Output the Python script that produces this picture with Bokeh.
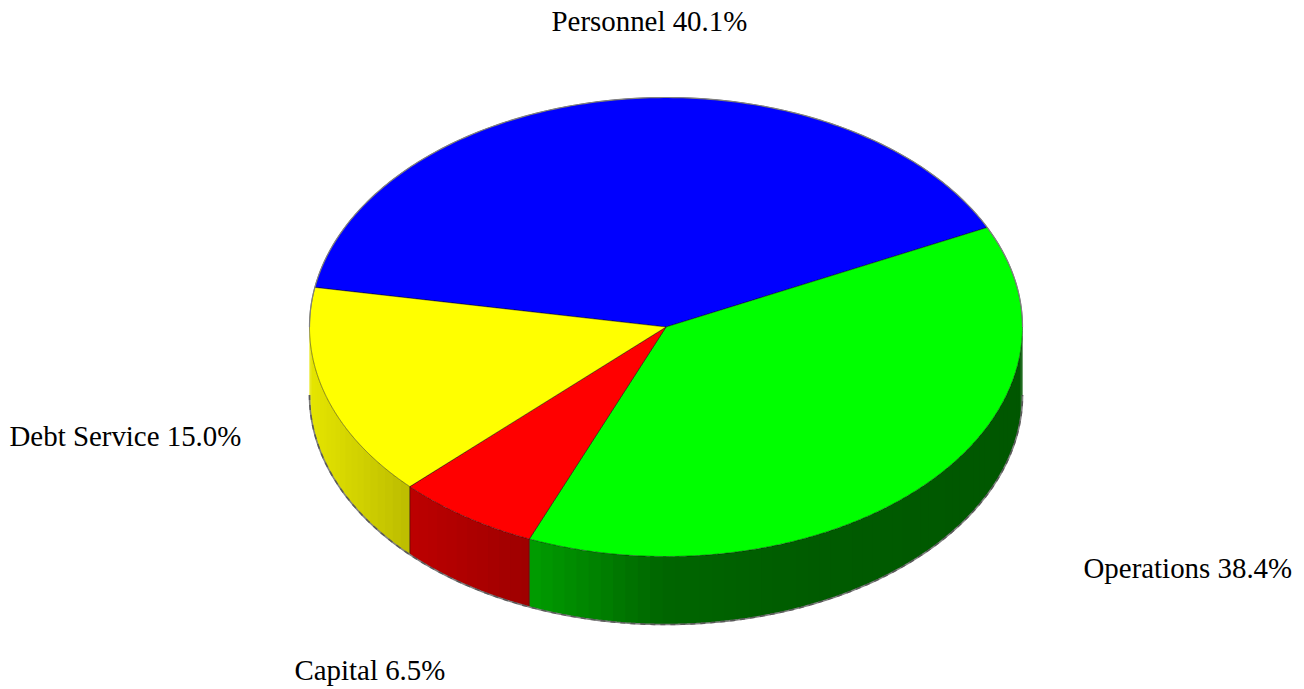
import numpy as np
from bokeh.plotting import figure
from bokeh.embed import file_html
from bokeh.resources import INLINE
from bokeh.core.properties import value

# Budget shares, clockwise from the upper right of the pie
categories = ["Personnel", "Operations", "Capital", "Debt Service"]
shares = [40.1, 38.4, 6.5, 15.0]
face_colors = [(0, 0, 255), (0, 255, 0), (255, 0, 0), (255, 255, 0)]

# Pie geometry in page pixels
CX, CY, RX, RY, DEPTH = 665.5, 326.5, 356.5, 229.5, 68
FIRST_EDGE_DEG = 25.7 + 360 * shares[0] / 100  # counter-clockwise start of the first slice

# Where each label sits (left edge, vertical centre of the text line)
label_pos = {
    "Personnel": (551, 20),
    "Operations": (1083, 567),
    "Capital": (294, 669.5),
    "Debt Service": (9, 435),
}

p = figure(width=1304, height=689, x_range=(0, 1304), y_range=(689, 0),
           toolbar_location=None, output_backend="svg", min_border=0,
           outline_line_color=None, background_fill_color="white")
p.axis.visible = False
p.grid.visible = False


def rim(deg, drop=0.0):
    a = np.radians(deg)
    return CX + RX * np.cos(a), CY - RY * np.sin(a) + drop


def hex_color(rgb, k=1.0):
    return "#%02x%02x%02x" % tuple(int(round(c * k)) for c in rgb)


def shade(x):
    # the side wall darkens from left to right
    return float(np.interp(x, [309, 408, 527, 660, 800, 1022],
                           [0.90, 0.74, 0.62, 0.40, 0.36, 0.34]))


# Slice boundaries, walking clockwise
edges = [FIRST_EDGE_DEG]
for s in shares:
    edges.append(edges[-1] - 360 * s / 100)

# Side wall: narrow strips along the visible lower half, each overlapping the next
wall_x, wall_y, wall_c = [], [], []
for i, rgb in enumerate(face_colors):
    hi, lo = edges[i], edges[i + 1]
    for turn in (0, -360, 360):
        a0 = min(hi + turn, 360)
        a1 = max(lo + turn, 180)
        if a0 <= 180 or a1 >= 360 or a0 <= a1:
            continue
        steps = np.arange(a1, a0, 2.0).tolist() + [a0]
        for u, v in zip(steps[:-1], steps[1:]):
            v_over = min(v + 0.6, a0)
            arc_pts = np.linspace(u, v_over, 6)
            x, y = rim(arc_pts)
            wall_x.append(np.r_[x, x[::-1]])
            wall_y.append(np.r_[y, y[::-1] + DEPTH])
            mid = rim((u + v) / 2)[0]
            wall_c.append(hex_color(rgb, shade(mid)))
p.patches(wall_x, wall_y, fill_color=wall_c, line_color=None)

# Dark seams where slices meet on the wall, then the silhouette
for e in edges[:-1]:
    if np.sin(np.radians(e)) < 0:
        x0, y0 = rim(e)
        p.line([x0, x0], [y0, y0 + DEPTH], line_color="#301000", line_width=1, line_alpha=0.7)

arc = np.linspace(180, 360, 240)
bx, by = rim(arc, DEPTH)
p.line(bx, by, line_color="#808080", line_width=1.6)
p.line(bx, by, line_color="#404040", line_width=1.6, line_dash="5 5", line_alpha=0.6)

# Top face
for i, rgb in enumerate(face_colors):
    a = np.linspace(edges[i], edges[i + 1], 240)
    x, y = rim(a)
    p.patch(np.r_[CX, x], np.r_[CY, y], fill_color=hex_color(rgb), line_color="#000000",
            line_width=0.8, line_alpha=0.55)

# Grey rim on the upper half of the outline
arc = np.linspace(0, 180, 240)
tx, ty = rim(arc)
p.line(tx, ty, line_color="#808080", line_width=1.2)

# Labels
names = [f"{c} {s:.1f}%" for c, s in zip(categories, shares)]
p.text([label_pos[c][0] for c in categories], [label_pos[c][1] for c in categories], text=names,
       text_font=value("Liberation Serif"), text_font_size="28.9px", text_color="#000000",
       text_align="left", text_baseline="middle")

open("out.html", "w").write(file_html(p, INLINE))
